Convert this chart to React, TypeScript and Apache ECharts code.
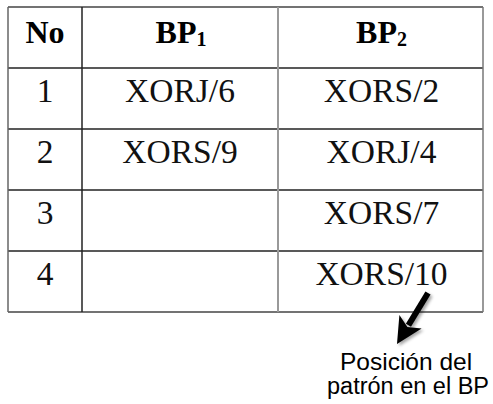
import React, { useEffect, useRef } from "react";
import * as echarts from "echarts";

const headers = ["No", "BP", "BP"];
const headerSubs = ["", "1", "2"];
const numbers = ["1", "2", "3", "4"];
const bp1 = ["XORJ/6", "XORS/9", "", ""];
const bp2 = ["XORS/2", "XORJ/4", "XORS/7", "XORS/10"];
const noteLines = ["Posición del", "patrón en el BP"];

const colEdges = [8, 82, 278, 483];
const rowEdges = [7, 68, 129, 190, 251, 312];

export default function App() {
  const ref = useRef<HTMLDivElement>(null);
  useEffect(() => {
    document.body.style.margin = "0";
    const chart = echarts.init(ref.current!, null, { renderer: "svg" });
    const els: any[] = [];
    const serif = "'Times New Roman', 'Liberation Serif', Times, serif";
    const sans = "Arial, 'Liberation Sans', sans-serif";
    const colCenters = [0, 1, 2].map((i) => (colEdges[i] + colEdges[i + 1]) / 2);

    els.push({ type: "rect", shape: { x: 0, y: 0, width: 493, height: 404 }, style: { fill: "#fff" } });

    rowEdges.forEach((y, i) => {
      els.push({
        type: "line",
        shape: { x1: colEdges[0], y1: y, x2: colEdges[3], y2: y },
        style: { stroke: i === 0 || i === rowEdges.length - 1 ? "#444" : "#222", lineWidth: 1.5 },
      });
    });
    const vColors = ["#666", "#222", "#999", "#777"];
    const vWidths = [1.5, 1.5, 2, 1.5];
    colEdges.forEach((x, i) => {
      els.push({
        type: "line",
        shape: { x1: x, y1: rowEdges[0], x2: x, y2: rowEdges[rowEdges.length - 1] },
        style: { stroke: vColors[i], lineWidth: vWidths[i] },
      });
    });

    headers.forEach((h, i) => {
      els.push({
        type: "text",
        x: colCenters[i] + (headerSubs[i] ? 1 : 0),
        y: rowEdges[0] + 25,
        style: {
          text: headerSubs[i] ? `{m|${h}}{s|${headerSubs[i]}}` : `{m|${h}}`,
          align: "center",
          verticalAlign: "middle",
          rich: {
            m: { fontFamily: serif, fontSize: 32, fontWeight: "bold", fill: "#000", lineHeight: 36 },
            s: { fontFamily: serif, fontSize: 20, fontWeight: "bold", fill: "#000", padding: [14, 0, 0, 0], lineHeight: 36 },
          },
        },
      });
    });

    const cols = [numbers, bp1, bp2];
    cols.forEach((col, ci) => {
      col.forEach((t, ri) => {
        if (!t) return;
        els.push({
          type: "text",
          x: colCenters[ci] + (ci === 2 ? 1 : 0),
          y: rowEdges[ri + 1] + 22,
          style: {
            text: t,
            align: "center",
            verticalAlign: "middle",
            fontFamily: serif,
            fontSize: 33.5,
            fill: "#111",
          },
        });
      });
    });

    // arrow
    const tail = [428, 293];
    const tip = [397, 344];
    const dx = tip[0] - tail[0];
    const dy = tip[1] - tail[1];
    const len = Math.hypot(dx, dy);
    const ux = dx / len, uy = dy / len;
    const headLen = 26, halfW = 13;
    const bx = tip[0] - ux * headLen, by = tip[1] - uy * headLen;
    const px = -uy, py = ux;
    const shadow = { shadowBlur: 3, shadowColor: "rgba(0,0,0,0.35)", shadowOffsetX: 2, shadowOffsetY: 2 };
    els.push({
      type: "line",
      shape: { x1: tail[0], y1: tail[1], x2: bx + ux * 4, y2: by + uy * 4 },
      style: { stroke: "#000", lineWidth: 6, ...shadow },
    });
    els.push({
      type: "polygon",
      shape: {
        points: [
          [tip[0], tip[1]],
          [bx + px * halfW, by + py * halfW],
          [bx + ux * 6, by + uy * 6],
          [bx - px * halfW, by - py * halfW],
        ],
      },
      style: { fill: "#000", ...shadow },
    });

    const noteX = [340, 327];
    const noteY = [361, 386];
    const noteSize = [24.5, 23.5];
    noteLines.forEach((t, i) => {
      els.push({
        type: "text",
        x: noteX[i],
        y: noteY[i],
        style: {
          text: `{n|${t}}`,
          align: "left",
          verticalAlign: "middle",
          rich: { n: { fontFamily: sans, fontSize: noteSize[i], fill: "#000", lineHeight: 24 } },
        },
      });
    });

    chart.setOption({ animation: false, graphic: { elements: els } });
    return () => chart.dispose();
  }, []);
  return <div ref={ref} style={{ width: 493, height: 404 }} />;
}
